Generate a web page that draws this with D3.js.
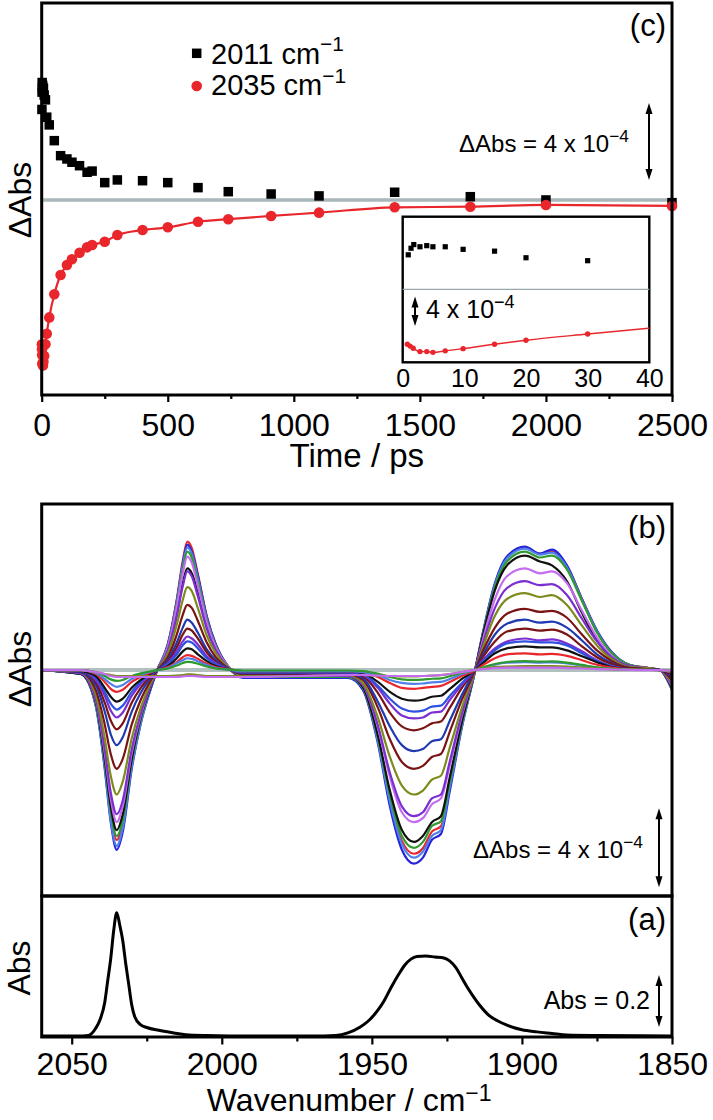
<!DOCTYPE html>
<html><head><meta charset="utf-8">
<script src="https://cdn.jsdelivr.net/npm/d3@7"></script>
<style>
body{margin:0;background:#fff}
svg{display:block}
text{font-family:"Liberation Sans",Arial,Helvetica,sans-serif;fill:#000}
</style>
</head><body>
<svg id="fig" width="713" height="1120"></svg>
<script>
// ---------------- DATA ----------------
// Panel (c): kinetics, values in units of 1e-4 ΔAbs
const seriesLabels = ["2011", "2035"];
const timesBlack = [0.9,1.35,1.8,2.8,3.9,4.9,6.9,9.8,14.9,20,30,50,75,100,120,150,180,200,250,300,400,500,620,740,910,1100,1400,1700,2000,2500];
const valsBlack  = [4.7,5.6,6.1,5.8,5.95,5.8,5.8,5.45,5.2,4.3,3.9,3.08,2.3,2.13,1.96,1.78,1.44,1.5,0.9,1.04,1.0,0.9,0.64,0.43,0.31,0.21,0.4,0.17,0.0,-0.14];
const timesRed = [0.75,1.2,1.7,2.8,3.9,4.9,6.9,9.8,14.9,20,30,50,75,100,120,150,180,200,250,300,400,500,620,740,910,1100,1400,1700,2000,2500];
const valsRed  = [-7.5,-7.75,-8.05,-8.5,-8.5,-8.6,-8.4,-8.1,-7.5,-6.95,-6.1,-4.9,-3.9,-3.38,-3.08,-2.74,-2.46,-2.34,-2.17,-1.82,-1.56,-1.42,-1.13,-1.0,-0.83,-0.66,-0.38,-0.35,-0.26,-0.31];
const insetFitEndT = [40];
const insetFitEndV = [-5.3];
const timeTicks = [0,500,1000,1500,2000,2500];
const timeMinorTicks = [250,750,1250,1750,2250];
const insetTicks = [0,10,20,30,40];

// Panel (b): transient spectra, units of 1e-4 ΔAbs
const wavenumbers = [2060,2047,2042,2039,2037,2035,2033,2030,2027,2024,
 2021.5,2018,2015,2013,2011.5,2010,2008,2005,2002,1998,
 1993,1975,1958,1953,1948,1944,1940,1936,1933,1930,
 1927,1924,1920,1916,1913,1909,1905,1899,1894,1890,
 1885,1880,1875,1870,1864,1858,1854,1850];
const traceColors = ["#e8262b","#2424d8","#4f80ea","#2f9a2f","#111111","#c46cf0","#7b2fd0","#7d8a1c","#7a1414","#1f3ab0","#7a1414","#7b2fd0","#3050e0","#111111","#e8262b","#4f80ea","#2f9a2f","#7d8a1c","#c46cf0"];
const trace1 = [0,-0.17,-1.72,-4.73,-7.31,-8.6,-7.74,-4.73,-2.58,-1.03, 0,1.3,3.58,5.53,6.5,6.18,4.88,2.73,1.3,0.22, -0.34,-0.34,-0.34,-0.9,-3.52,-6.51,-8.65,-9.3,-9.02,-8.18, -7.91,-5.77,-2.79,-0.28,1.86,4.34,5.7,6.2,5.89,6.01, 5.27,3.6,1.98,0.87,0.25,0.12,0,-0.99];
const trace2 = [0,-0.2,-1.8,-5.0,-7.7,-9.1,-8.2,-5.0,-2.7,-1.1, 0,1.3,3.5,5.4,6.35,6.0,4.8,2.7,1.3,0.2, -0.4,-0.4,-0.4,-1.0,-3.7,-6.9,-9.1,-9.8,-9.5,-8.6, -8.3,-6.1,-2.9,-0.3,1.9,4.4,5.75,6.25,5.9,6.1, 5.3,3.6,2.0,0.9,0.25,0.1,0,-1.0];
const trace3 = [0,-0.2,-1.8,-4.9,-7.6,-8.9,-8.0,-4.9,-2.7,-1.1, 0,1.2,3.4,5.3,6.2,5.9,4.65,2.6,1.2,0.2, -0.35,-0.35,-0.35,-0.9,-3.6,-6.65,-8.8,-9.5,-9.2,-8.4, -8.1,-5.9,-2.85,-0.3,1.85,4.3,5.65,6.15,5.85,5.95, 5.2,3.55,1.95,0.85,0.25,0.1,0,-1.0];
const trace4 = [0,-0.2,-1.7,-4.6,-7.1,-8.4,-7.6,-4.6,-2.5,-1.0, 0,1.2,3.3,5.1,6.0,5.7,4.5,2.5,1.2,0.2, -0.35,-0.35,-0.35,-0.9,-3.4,-6.3,-8.4,-9.0,-8.7,-7.9, -7.65,-5.6,-2.7,-0.3,1.8,4.2,5.5,6.0,5.7,5.8, 5.1,3.5,1.9,0.85,0.25,0.1,0,-0.95];
const trace5 = [0,-0.2,-1.6,-4.5,-6.9,-8.1,-7.3,-4.5,-2.4,-1.0, 0,1.0,2.8,4.4,5.15,4.9,3.9,2.2,1.0,0.15, -0.3,-0.3,-0.3,-0.85,-3.3,-6.1,-8.1,-8.7,-8.4,-7.7, -7.4,-5.4,-2.6,-0.25,1.75,4.05,5.3,5.8,5.5,5.3, 4.5,2.9,1.5,0.6,0.2,0.1,0,-0.9];
const trace6 = [0,-0.15,-1.5,-4.2,-6.5,-7.7,-6.9,-4.2,-2.3,-0.9, 0,1.15,3.2,4.9,5.75,5.45,4.3,2.4,1.15,0.2, -0.3,-0.3,-0.3,-0.75,-2.9,-5.4,-7.2,-7.7,-7.5,-6.8, -6.5,-4.8,-2.3,-0.25,1.55,3.6,4.75,5.15,4.9,5.0, 4.4,3.0,1.65,0.7,0.2,0.1,0,-0.8];
const trace7 = [0,-0.15,-1.45,-4.0,-6.2,-7.3,-6.6,-4.0,-2.2,-0.9, 0,1.0,2.75,4.25,5.0,4.75,3.75,2.1,1.0,0.15, -0.3,-0.3,-0.3,-0.75,-2.8,-5.2,-6.9,-7.4,-7.2,-6.5, -6.3,-4.6,-2.2,-0.2,1.35,3.15,4.15,4.5,4.3,4.35, 3.8,2.6,1.45,0.65,0.2,0.1,0,-0.7];
const trace8 = [0,-0.1,-1.25,-3.45,-5.35,-6.3,-5.65,-3.45,-1.9,-0.75, 0,0.85,2.3,3.55,4.2,4.0,3.15,1.75,0.85,0.15, -0.25,-0.25,-0.25,-0.65,-2.4,-4.4,-5.85,-6.3,-6.1,-5.55, -5.35,-3.9,-1.9,-0.2,1.15,2.75,3.6,3.9,3.7,3.8, 3.3,2.25,1.25,0.55,0.15,0.1,0,-0.6];
const trace9 = [0,-0.1,-1.0,-2.75,-4.25,-5.0,-4.5,-2.75,-1.5,-0.6, 0,0.65,1.8,2.8,3.3,3.15,2.5,1.4,0.65,0.1, -0.2,-0.2,-0.2,-0.5,-1.9,-3.5,-4.65,-5.0,-4.85,-4.4, -4.25,-3.1,-1.5,-0.15,0.95,2.15,2.85,3.1,2.95,3.0, 2.65,1.8,1.0,0.45,0.1,0.05,0,-0.5];
const trace10 = [0,-0.1,-0.75,-2.1,-3.25,-3.8,-3.4,-2.1,-1.15,-0.45, 0,0.5,1.4,2.15,2.55,2.4,1.9,1.05,0.5,0.1, -0.15,-0.15,-0.15,-0.4,-1.6,-2.85,-3.8,-4.1,-4.0,-3.6, -3.5,-2.55,-1.25,-0.1,0.75,1.8,2.35,2.55,2.4,2.45, 2.15,1.5,0.8,0.35,0.1,0.05,0,-0.4];
const trace11 = [0,-0.05,-0.6,-1.65,-2.55,-3.0,-2.7,-1.65,-0.9,-0.35, 0,0.4,1.15,1.8,2.1,2.0,1.6,0.9,0.4,0.05, -0.1,-0.1,-0.1,-0.3,-1.15,-2.15,-2.85,-3.05,-2.95,-2.7, -2.6,-1.9,-0.9,-0.1,0.65,1.45,1.95,2.1,2.0,2.05, 1.8,1.2,0.65,0.3,0.1,0.05,0,-0.35];
const trace12 = [0,-0.05,-0.5,-1.3,-2.05,-2.4,-2.15,-1.3,-0.7,-0.3, 0,0.35,0.95,1.45,1.7,1.6,1.3,0.7,0.35,0.05, -0.1,-0.1,-0.1,-0.25,-0.9,-1.7,-2.3,-2.45,-2.4,-2.15, -2.1,-1.5,-0.75,-0.05,0.5,1.1,1.45,1.6,1.5,1.55, 1.35,0.95,0.5,0.2,0.05,0.05,0,-0.25];
const trace13 = [0,-0.05,-0.4,-1.1,-1.7,-2.0,-1.8,-1.1,-0.6,-0.25, 0,0.3,0.8,1.25,1.45,1.4,1.1,0.6,0.3,0.05, -0.1,-0.1,-0.1,-0.2,-0.8,-1.45,-1.95,-2.1,-2.05,-1.85, -1.8,-1.3,-0.65,-0.05,0.45,1.0,1.35,1.45,1.4,1.4, 1.25,0.85,0.45,0.2,0.05,0.05,0,-0.25];
const trace14 = [0,-0.05,-0.3,-0.9,-1.35,-1.6,-1.45,-0.9,-0.5,-0.2, 0,0.2,0.6,0.95,1.1,1.05,0.8,0.45,0.2,0.05, -0.05,-0.05,-0.05,-0.15,-0.6,-1.1,-1.45,-1.55,-1.5,-1.35, -1.3,-0.95,-0.45,-0.05,0.35,0.85,1.1,1.2,1.15,1.15, 1.0,0.7,0.4,0.15,0.05,0.05,0,-0.2];
const trace15 = [0,0,-0.2,-0.6,-0.95,-1.1,-1.0,-0.6,-0.35,-0.15, 0,0.15,0.4,0.65,0.76,0.72,0.57,0.32,0.15,0.05, -0.05,-0.05,-0.05,-0.1,-0.35,-0.65,-0.9,-0.95,-0.9,-0.85, -0.8,-0.6,-0.3,-0.05,0.25,0.6,0.8,0.85,0.8,0.82, 0.72,0.5,0.27,0.12,0.03,0.02,0,-0.15];
const trace16 = [0,0,-0.15,-0.45,-0.7,-0.85,-0.75,-0.45,-0.25,-0.1, 0,0.1,0.35,0.5,0.6,0.57,0.45,0.25,0.1,0.03, -0.05,-0.05,-0.05,-0.1,-0.25,-0.5,-0.65,-0.7,-0.68,-0.62, -0.6,-0.45,-0.2,0,0.12,0.28,0.37,0.4,0.38,0.39, 0.34,0.23,0.13,0.06,0.02,0.01,0,-0.08];
const trace17 = [0,0,-0.1,-0.3,-0.47,-0.55,-0.5,-0.3,-0.17,-0.07, 0,0.08,0.23,0.36,0.42,0.4,0.32,0.18,0.08,0.02, -0.02,-0.02,-0.02,-0.05,-0.18,-0.35,-0.47,-0.5,-0.48,-0.44, -0.42,-0.31,-0.15,0,0.13,0.31,0.41,0.45,0.43,0.44, 0.38,0.26,0.14,0.06,0.02,0.01,0,-0.07];
const trace18 = [0,0,-0.1,-0.2,-0.25,-0.3,-0.3,-0.3,-0.3,-0.3, -0.3,-0.3,-0.28,-0.25,-0.22,-0.22,-0.25,-0.3,-0.3,-0.3, -0.3,-0.3,-0.25,-0.25,-0.28,-0.3,-0.32,-0.32,-0.3,-0.28, -0.26,-0.2,-0.1,0,0.08,0.15,0.18,0.2,0.2,0.2, 0.18,0.12,0.08,0.04,0.02,0.01,0,-0.05];
const trace19 = [0,0,-0.1,-0.2,-0.3,-0.35,-0.35,-0.35,-0.35,-0.35, -0.35,-0.35,-0.35,-0.32,-0.3,-0.3,-0.32,-0.35,-0.35,-0.35, -0.35,-0.3,-0.25,-0.25,-0.28,-0.3,-0.3,-0.3,-0.3,-0.28, -0.25,-0.2,-0.1,0,0.05,0.1,0.12,0.12,0.12,0.12, 0.1,0.08,0.05,0.03,0.01,0,0,-0.03];
const traces = [trace1,trace2,trace3,trace4,trace5,trace6,trace7,trace8,trace9,trace10,trace11,trace12,trace13,trace14,trace15,trace16,trace17,trace18,trace19];

// Panel (a): FTIR absorbance
const ftirWn  = [2060,2048,2044.5,2042,2040.5,2039,2038,2037,2036,2035,2034,2033,2032,2031,2030,2029,2027,2025,2021,2016,2012,2005,1990,1970,1962,1958,1954,1951,1948,1946,1943.5,1941,1939,1937,1935,1932,1929,1926,1924,1922,1920,1918,1916,1914,1911,1908,1905,1900,1895,1890,1885,1875,1860,1850];
const ftirAbs = [0,0,0.002,0.03,0.065,0.13,0.215,0.3,0.41,0.478,0.43,0.37,0.28,0.2,0.12,0.075,0.043,0.033,0.022,0.012,0.005,0.002,0,0,0.002,0.012,0.034,0.06,0.1,0.135,0.19,0.24,0.275,0.298,0.308,0.31,0.306,0.302,0.29,0.265,0.225,0.185,0.15,0.118,0.08,0.058,0.042,0.024,0.016,0.01,0.004,0.002,0.001,0];
const wnTicks = [2050,2000,1950,1900,1850];
const wnMinorTicks = [2025,1975,1925,1875];

// ---------------- LAYOUT ----------------
const svg = d3.select("#fig");
const L = 41.7, R = 672;
const font = '"Liberation Sans",Arial,Helvetica,sans-serif';

// Scales
const xT = d3.scaleLinear().domain([0,2500]).range([L,R]);
const yC = d3.scaleLinear().domain([-10.13,10.23]).range([395,3]);
const xIn = d3.scaleLinear().domain([0,40]).range([402.7,649.3]);
const yIn = d3.scaleLinear().domain([-9.96,9.9]).range([362.3,216.7]);
const xW = d3.scaleLinear().domain([2060,1850]).range([L,R]);
const yB = d3.scaleLinear().domain([-11.44,8.41]).range([896,504]);
const yA = d3.scaleLinear().domain([-0.0039,0.5426]).range([1037,896]);

function superText(g, x, y, main, sup, size, anchor, shift){
  const t = g.append("text").attr("x",x).attr("y",y).attr("font-size",size).attr("text-anchor",anchor||"start");
  t.append("tspan").text(main);
  t.append("tspan").attr("dy", -(shift||0.42)*size).attr("font-size", size*0.72).text(sup);
  return t;
}
function dblArrow(x, y1, y2){
  const g = svg.append("g");
  const top = Math.min(y1,y2), bot = Math.max(y1,y2), h = 11, w = 3.5;
  g.append("line").attr("x1",x).attr("x2",x).attr("y1",top+h-2).attr("y2",bot-h+2).attr("stroke","#000").attr("stroke-width",2);
  g.append("path").attr("d",`M${x},${top} L${x-w},${top+h} L${x+w},${top+h} Z`).attr("fill","#000");
  g.append("path").attr("d",`M${x},${bot} L${x-w},${bot-h} L${x+w},${bot-h} Z`).attr("fill","#000");
}
function styleAxis(g, size){
  g.attr("font-family",font).attr("font-size",size);
  g.select(".domain").remove();
  g.selectAll(".tick line").attr("stroke","#000").attr("stroke-width",2.2);
  g.selectAll(".tick text").attr("fill","#000");
}

// ===== Panel (c) =====
const blackPts = timesBlack.map((t,i)=>({t, v: valsBlack[i]}));
const redPts = timesRed.map((t,i)=>({t, v: valsRed[i]}));

svg.append("line").attr("x1",L).attr("x2",R).attr("y1",yC(0)).attr("y2",yC(0)).attr("stroke","#a9b6ba").attr("stroke-width",3.5);

svg.append("path").datum(redPts)
  .attr("d", d3.line().x(d=>xT(d.t)).y(d=>yC(d.v)).curve(d3.curveMonotoneX))
  .attr("fill","none").attr("stroke","#e8262b").attr("stroke-width",2.2);

const sq = 9.5;
svg.append("g").selectAll("rect").data(blackPts).join("rect")
  .attr("x", d=>xT(d.t)-sq/2).attr("y", d=>yC(d.v)-sq/2).attr("width",sq).attr("height",sq).attr("fill","#000");
svg.append("g").selectAll("circle").data(redPts).join("circle")
  .attr("cx", d=>xT(d.t)).attr("cy", d=>yC(d.v)).attr("r",5.3).attr("fill","#e8262b");

// inset
svg.append("rect").attr("x",xIn(0)).attr("y",yIn(9.9)).attr("width",xIn(40)-xIn(0)).attr("height",yIn(-9.96)-yIn(9.9))
  .attr("fill","#fff").attr("stroke","#000").attr("stroke-width",2.4);
svg.append("line").attr("x1",xIn(0)).attr("x2",xIn(40)).attr("y1",yIn(0)).attr("y2",yIn(0)).attr("stroke","#9aa6aa").attr("stroke-width",1.2);
const redIn = redPts.filter(d=>d.t<=40);
const redInFit = redIn.concat(insetFitEndT.map((t,i)=>({t, v: insetFitEndV[i]})));
svg.append("path").datum(redInFit)
  .attr("d", d3.line().x(d=>xIn(d.t)).y(d=>yIn(d.v)).curve(d3.curveMonotoneX))
  .attr("fill","none").attr("stroke","#e8262b").attr("stroke-width",1.4);
svg.append("g").selectAll("circle").data(redIn).join("circle")
  .attr("cx", d=>xIn(d.t)).attr("cy", d=>yIn(d.v)).attr("r",2.7).attr("fill","#e8262b");
const sqi = 5.2;
svg.append("g").selectAll("rect").data(blackPts.filter(d=>d.t<=40)).join("rect")
  .attr("x", d=>xIn(d.t)-sqi/2).attr("y", d=>yIn(d.v)-sqi/2).attr("width",sqi).attr("height",sqi).attr("fill","#000");
const gInAx = svg.append("g").attr("transform",`translate(0,${yIn(-9.96)})`)
  .call(d3.axisBottom(xIn).tickValues(insetTicks).tickSize(0).tickPadding(7));
styleAxis(gInAx, 25);
dblArrow(xIn(2), yIn(-1), yIn(-5));
superText(svg, 426, 318, "4 x 10", "\u22124", 25);

// frame c
svg.append("rect").attr("x",L).attr("y",yC(10.23)).attr("width",R-L).attr("height",yC(-10.13)-yC(10.23))
  .attr("fill","none").attr("stroke","#000").attr("stroke-width",3);
const gCx = svg.append("g").attr("transform",`translate(0,${yC(-10.13)})`)
  .call(d3.axisBottom(xT).tickValues(timeTicks).tickSize(7).tickPadding(11).tickFormat(d3.format("d")));
styleAxis(gCx, 32);
const gCm = svg.append("g").attr("transform",`translate(0,${yC(-10.13)})`)
  .call(d3.axisBottom(xT).tickValues(timeMinorTicks).tickSize(4).tickFormat(""));
styleAxis(gCm, 10);

// legend
svg.append("rect").attr("x",196.7-sq/2).attr("y",53.3-sq/2).attr("width",sq).attr("height",sq).attr("fill","#000");
svg.append("circle").attr("cx",196.7).attr("cy",86).attr("r",5.3).attr("fill","#e8262b");
superText(svg, 211, 63.5, seriesLabels[0]+" cm", "\u22121", 29);
superText(svg, 211, 95, seriesLabels[1]+" cm", "\u22121", 29);

// labels c
svg.append("text").attr("x",666).attr("y",36).attr("text-anchor","end").attr("font-size",31).text("(c)");
dblArrow(649, yC(5.04), yC(1.04));
superText(svg, 459, 152, "\u0394Abs = 4 x 10", "\u22124", 24);
svg.append("text").attr("transform","translate(31,200) rotate(-90)").attr("text-anchor","middle").attr("font-size",32).text("\u0394Abs");
svg.append("text").attr("x",(L+R)/2).attr("y",467).attr("text-anchor","middle").attr("font-size",33).text("Time / ps");

// ===== Panel (b) =====
svg.append("defs").append("clipPath").attr("id","clipB").append("rect")
  .attr("x",L).attr("y",504).attr("width",R-L).attr("height",392);
svg.append("line").attr("x1",L).attr("x2",R).attr("y1",yB(0)).attr("y2",yB(0)).attr("stroke","#b3c0c0").attr("stroke-width",4);
const lineB = d3.line().x((d,i)=>xW(wavenumbers[i])).y(d=>yB(d)).curve(d3.curveMonotoneX);
svg.append("g").attr("clip-path","url(#clipB)").selectAll("path").data(traces).join("path")
  .attr("d", d=>lineB(d)).attr("fill","none").attr("stroke",(d,i)=>traceColors[i]).attr("stroke-width",2.2);
svg.append("rect").attr("x",L).attr("y",504).attr("width",R-L).attr("height",392)
  .attr("fill","none").attr("stroke","#000").attr("stroke-width",3);
svg.append("text").attr("x",666).attr("y",538).attr("text-anchor","end").attr("font-size",31).text("(b)");
dblArrow(659, yB(-7), yB(-11));
superText(svg, 473, 858, "\u0394Abs = 4 x 10", "\u22124", 24);
svg.append("text").attr("transform","translate(31,669) rotate(-90)").attr("text-anchor","middle").attr("font-size",32).text("\u0394Abs");

// ===== Panel (a) =====
svg.append("path").datum(ftirWn.map((w,i)=>({w, a: ftirAbs[i]})))
  .attr("d", d3.line().x(d=>xW(d.w)).y(d=>yA(d.a)).curve(d3.curveMonotoneX))
  .attr("fill","none").attr("stroke","#000").attr("stroke-width",3);
svg.append("rect").attr("x",L).attr("y",896).attr("width",R-L).attr("height",141)
  .attr("fill","none").attr("stroke","#000").attr("stroke-width",3);
const gAx = svg.append("g").attr("transform",`translate(0,1037)`)
  .call(d3.axisBottom(xW).tickValues(wnTicks).tickSize(7.5).tickPadding(8).tickFormat(d3.format("d")));
styleAxis(gAx, 32);
const gAm = svg.append("g").attr("transform",`translate(0,1037)`)
  .call(d3.axisBottom(xW).tickValues(wnMinorTicks).tickSize(4.5).tickFormat(""));
styleAxis(gAm, 10);
svg.append("text").attr("x",666).attr("y",930).attr("text-anchor","end").attr("font-size",31).text("(a)");
dblArrow(659, yA(0.236), yA(0.035));
svg.append("text").attr("x",650).attr("y",1009).attr("text-anchor","end").attr("font-size",25).text("Abs = 0.2");
svg.append("text").attr("transform","translate(30,968) rotate(-90)").attr("text-anchor","middle").attr("font-size",32).text("Abs");
superText(svg, (L+R)/2 - 150, 1111, "Wavenumber / cm", "\u22121", 32, "start", 0.3);
</script>
</body></html>
